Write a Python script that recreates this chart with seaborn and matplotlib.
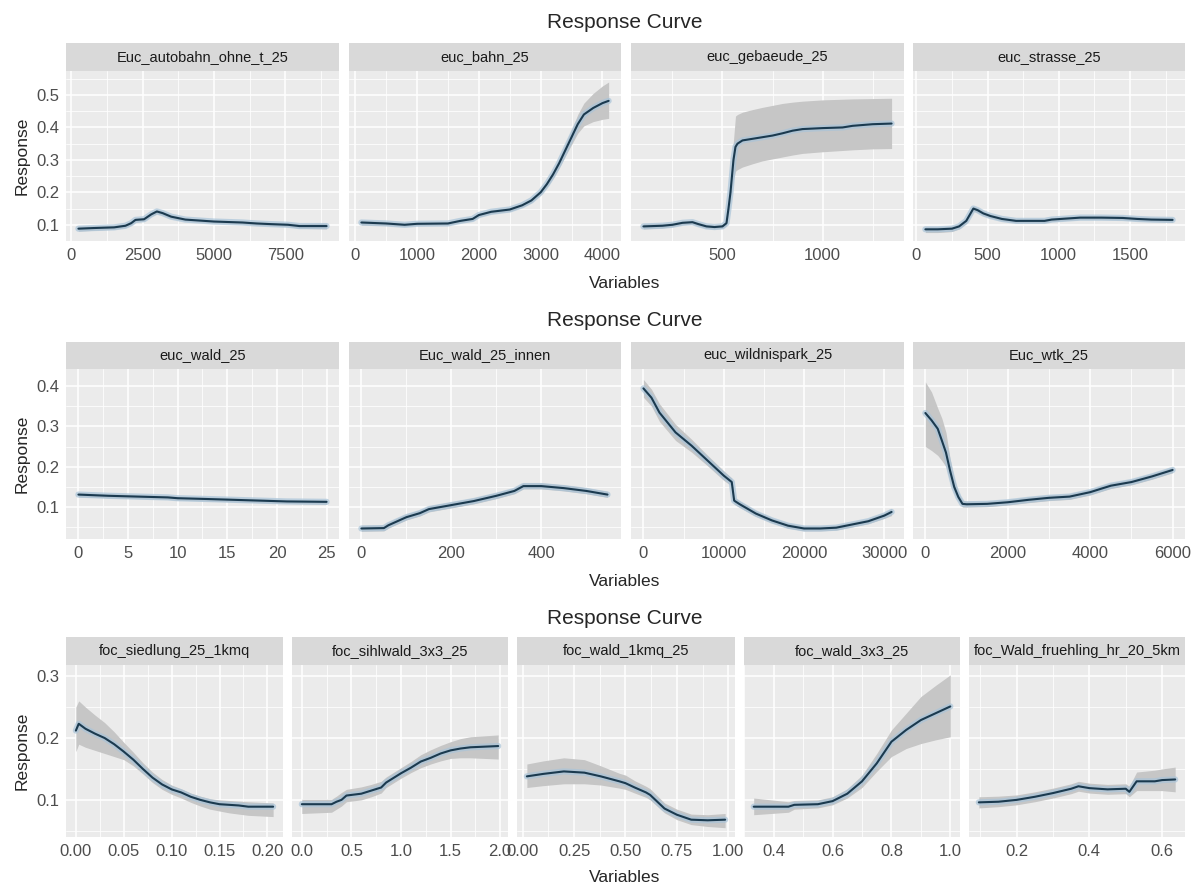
import seaborn as sns
import matplotlib.pyplot as plt

# ---- values (x, mean response, lower / upper band) ----

# row 1
autobahn_x = [250, 800, 1500, 1900, 2100, 2250, 2550, 2800, 3000, 3200, 3500, 4000, 4500, 5000, 6000, 6500, 7000, 7600, 8000, 8950]
autobahn_y = [0.088, 0.090, 0.092, 0.097, 0.105, 0.115, 0.117, 0.132, 0.141, 0.136, 0.125, 0.116, 0.113, 0.110, 0.107, 0.104, 0.102, 0.100, 0.096, 0.096]
autobahn_lo = [0.080, 0.083, 0.086, 0.091, 0.099, 0.108, 0.111, 0.126, 0.134, 0.130, 0.119, 0.111, 0.108, 0.105, 0.102, 0.099, 0.097, 0.094, 0.089, 0.087]
autobahn_hi = [0.096, 0.097, 0.098, 0.103, 0.111, 0.122, 0.123, 0.138, 0.148, 0.142, 0.131, 0.121, 0.118, 0.115, 0.112, 0.109, 0.107, 0.106, 0.103, 0.105]

bahn_x = [100, 500, 800, 1000, 1500, 1700, 1900, 2000, 2200, 2500, 2700, 2850, 3000, 3100, 3200, 3300, 3400, 3500, 3600, 3700, 3850, 4000, 4100]
bahn_y = [0.107, 0.104, 0.100, 0.103, 0.104, 0.112, 0.118, 0.130, 0.140, 0.147, 0.160, 0.175, 0.200, 0.225, 0.255, 0.290, 0.330, 0.370, 0.410, 0.440, 0.460, 0.475, 0.482]
bahn_lo = [0.099, 0.098, 0.095, 0.098, 0.099, 0.106, 0.112, 0.124, 0.134, 0.141, 0.154, 0.168, 0.192, 0.215, 0.243, 0.275, 0.312, 0.347, 0.382, 0.405, 0.418, 0.425, 0.428]
bahn_hi = [0.115, 0.110, 0.106, 0.108, 0.109, 0.118, 0.124, 0.136, 0.146, 0.153, 0.166, 0.182, 0.208, 0.235, 0.267, 0.305, 0.348, 0.393, 0.440, 0.475, 0.505, 0.528, 0.540]

gebaeude_x = [105, 200, 250, 300, 350, 380, 420, 460, 500, 520, 530, 540, 555, 565, 575, 600, 650, 700, 750, 800, 850, 900, 1000, 1100, 1150, 1250, 1345]
gebaeude_y = [0.095, 0.097, 0.100, 0.106, 0.108, 0.102, 0.095, 0.093, 0.095, 0.105, 0.150, 0.200, 0.300, 0.340, 0.350, 0.360, 0.365, 0.370, 0.375, 0.382, 0.390, 0.395, 0.398, 0.400, 0.405, 0.410, 0.412]
gebaeude_lo = [0.087, 0.090, 0.094, 0.100, 0.102, 0.096, 0.089, 0.087, 0.089, 0.097, 0.130, 0.170, 0.240, 0.265, 0.270, 0.278, 0.288, 0.297, 0.303, 0.309, 0.315, 0.320, 0.325, 0.329, 0.331, 0.334, 0.335]
gebaeude_hi = [0.103, 0.104, 0.106, 0.112, 0.114, 0.108, 0.101, 0.099, 0.101, 0.113, 0.170, 0.230, 0.360, 0.435, 0.440, 0.447, 0.455, 0.462, 0.468, 0.474, 0.478, 0.481, 0.485, 0.487, 0.488, 0.489, 0.490]

strasse_x = [63, 150, 250, 300, 350, 400, 430, 470, 520, 600, 700, 800, 900, 950, 1050, 1150, 1300, 1450, 1550, 1650, 1800]
strasse_y = [0.086, 0.086, 0.088, 0.095, 0.112, 0.150, 0.145, 0.135, 0.127, 0.118, 0.112, 0.112, 0.112, 0.116, 0.119, 0.122, 0.122, 0.121, 0.118, 0.116, 0.115]
strasse_lo = [0.076, 0.076, 0.079, 0.087, 0.104, 0.142, 0.138, 0.128, 0.121, 0.112, 0.106, 0.106, 0.106, 0.110, 0.113, 0.116, 0.116, 0.115, 0.112, 0.110, 0.108]
strasse_hi = [0.094, 0.094, 0.096, 0.103, 0.120, 0.158, 0.152, 0.142, 0.133, 0.124, 0.118, 0.118, 0.118, 0.122, 0.125, 0.128, 0.129, 0.128, 0.125, 0.123, 0.122]

# row 2
wald_x = [0, 2, 3, 6, 9, 10, 13, 17, 21, 25]
wald_y = [0.131, 0.129, 0.128, 0.126, 0.124, 0.122, 0.120, 0.117, 0.114, 0.113]
wald_lo = [0.125, 0.124, 0.123, 0.121, 0.119, 0.117, 0.115, 0.112, 0.109, 0.107]
wald_hi = [0.137, 0.134, 0.133, 0.131, 0.129, 0.127, 0.125, 0.122, 0.119, 0.118]

innen_x = [0, 50, 60, 80, 100, 130, 150, 200, 250, 300, 340, 360, 400, 450, 500, 547]
innen_y = [0.047, 0.048, 0.055, 0.065, 0.075, 0.085, 0.095, 0.105, 0.115, 0.128, 0.140, 0.152, 0.152, 0.147, 0.140, 0.131]
innen_lo = [0.040, 0.041, 0.048, 0.058, 0.068, 0.078, 0.088, 0.098, 0.108, 0.121, 0.133, 0.145, 0.145, 0.140, 0.133, 0.124]
innen_hi = [0.055, 0.056, 0.063, 0.073, 0.083, 0.093, 0.103, 0.113, 0.123, 0.136, 0.148, 0.160, 0.160, 0.155, 0.148, 0.139]

wildnis_x = [0, 1000, 2000, 4000, 6000, 8000, 10000, 11000, 11300, 12000, 14000, 16000, 18000, 20000, 22000, 24000, 26000, 28000, 30000, 30900]
wildnis_y = [0.394, 0.371, 0.334, 0.285, 0.252, 0.215, 0.178, 0.162, 0.116, 0.107, 0.084, 0.067, 0.054, 0.047, 0.047, 0.049, 0.057, 0.065, 0.079, 0.088]
wildnis_lo = [0.372, 0.350, 0.312, 0.265, 0.236, 0.202, 0.166, 0.152, 0.107, 0.099, 0.077, 0.061, 0.048, 0.041, 0.041, 0.043, 0.051, 0.059, 0.072, 0.079]
wildnis_hi = [0.416, 0.392, 0.356, 0.305, 0.268, 0.228, 0.190, 0.172, 0.125, 0.115, 0.091, 0.073, 0.060, 0.053, 0.053, 0.055, 0.063, 0.071, 0.086, 0.097]

wtk_x = [0, 150, 300, 400, 500, 600, 700, 800, 900, 1000, 1500, 2000, 2500, 3000, 3500, 4000, 4500, 5000, 5500, 6000]
wtk_y = [0.333, 0.315, 0.294, 0.265, 0.235, 0.190, 0.150, 0.125, 0.108, 0.107, 0.108, 0.112, 0.118, 0.123, 0.126, 0.137, 0.153, 0.162, 0.176, 0.192]
wtk_lo = [0.250, 0.240, 0.228, 0.215, 0.200, 0.165, 0.135, 0.115, 0.100, 0.100, 0.101, 0.105, 0.111, 0.116, 0.119, 0.130, 0.146, 0.155, 0.169, 0.185]
wtk_hi = [0.410, 0.385, 0.345, 0.320, 0.285, 0.220, 0.170, 0.138, 0.117, 0.115, 0.115, 0.119, 0.125, 0.130, 0.133, 0.144, 0.160, 0.169, 0.183, 0.199]

# row 3
siedlung_x = [0.000, 0.003, 0.010, 0.020, 0.030, 0.040, 0.050, 0.060, 0.070, 0.080, 0.090, 0.100, 0.110, 0.120, 0.130, 0.140, 0.150, 0.160, 0.170, 0.180, 0.206]
siedlung_y = [0.212, 0.223, 0.215, 0.207, 0.200, 0.190, 0.178, 0.165, 0.150, 0.136, 0.125, 0.117, 0.112, 0.105, 0.100, 0.096, 0.093, 0.092, 0.091, 0.089, 0.089]
siedlung_lo = [0.178, 0.190, 0.185, 0.180, 0.175, 0.170, 0.165, 0.155, 0.142, 0.128, 0.117, 0.109, 0.103, 0.096, 0.090, 0.085, 0.082, 0.079, 0.077, 0.075, 0.073]
siedlung_hi = [0.250, 0.260, 0.250, 0.237, 0.225, 0.210, 0.193, 0.177, 0.160, 0.145, 0.133, 0.124, 0.118, 0.111, 0.106, 0.102, 0.100, 0.099, 0.098, 0.097, 0.095]

sihlwald_x = [0.0, 0.3, 0.35, 0.4, 0.45, 0.6, 0.7, 0.8, 0.85, 1.0, 1.1, 1.2, 1.3, 1.4, 1.5, 1.6, 1.7, 1.98]
sihlwald_y = [0.093, 0.093, 0.097, 0.100, 0.107, 0.110, 0.115, 0.120, 0.128, 0.143, 0.152, 0.162, 0.168, 0.175, 0.180, 0.183, 0.185, 0.187]
sihlwald_lo = [0.078, 0.080, 0.085, 0.090, 0.097, 0.100, 0.105, 0.111, 0.120, 0.135, 0.144, 0.152, 0.158, 0.163, 0.167, 0.168, 0.168, 0.166]
sihlwald_hi = [0.101, 0.101, 0.106, 0.112, 0.117, 0.121, 0.125, 0.130, 0.137, 0.152, 0.162, 0.173, 0.181, 0.188, 0.194, 0.199, 0.202, 0.205]

wald1k_x = [0.02, 0.1, 0.2, 0.3, 0.38, 0.47, 0.5, 0.545, 0.6, 0.62, 0.69, 0.75, 0.82, 0.9, 0.985]
wald1k_y = [0.138, 0.142, 0.146, 0.144, 0.138, 0.130, 0.127, 0.120, 0.112, 0.108, 0.086, 0.076, 0.068, 0.067, 0.068]
wald1k_lo = [0.120, 0.123, 0.126, 0.126, 0.124, 0.119, 0.117, 0.111, 0.104, 0.100, 0.079, 0.068, 0.060, 0.057, 0.055]
wald1k_hi = [0.158, 0.163, 0.168, 0.165, 0.155, 0.143, 0.140, 0.131, 0.122, 0.118, 0.095, 0.085, 0.077, 0.076, 0.078]

wald3_x = [0.332, 0.45, 0.47, 0.55, 0.6, 0.65, 0.7, 0.75, 0.8, 0.85, 0.9, 0.95, 1.0]
wald3_y = [0.089, 0.089, 0.092, 0.093, 0.098, 0.110, 0.130, 0.159, 0.194, 0.213, 0.229, 0.240, 0.251]
wald3_lo = [0.076, 0.080, 0.085, 0.087, 0.092, 0.103, 0.120, 0.146, 0.170, 0.183, 0.191, 0.197, 0.202]
wald3_hi = [0.103, 0.097, 0.099, 0.100, 0.105, 0.118, 0.140, 0.175, 0.213, 0.240, 0.267, 0.285, 0.302]

frueh_x = [0.096, 0.15, 0.2, 0.25, 0.3, 0.35, 0.37, 0.4, 0.45, 0.5, 0.51, 0.53, 0.58, 0.6, 0.636]
frueh_y = [0.096, 0.097, 0.100, 0.105, 0.111, 0.118, 0.122, 0.119, 0.117, 0.118, 0.113, 0.130, 0.130, 0.132, 0.133]
frueh_lo = [0.087, 0.089, 0.092, 0.097, 0.103, 0.110, 0.114, 0.111, 0.109, 0.110, 0.105, 0.115, 0.115, 0.115, 0.113]
frueh_hi = [0.105, 0.106, 0.108, 0.113, 0.119, 0.126, 0.130, 0.127, 0.125, 0.126, 0.122, 0.145, 0.148, 0.150, 0.153]

# panel names, ticks and labels
row1_names = ['Euc_autobahn_ohne_t_25', 'euc_bahn_25', 'euc_gebaeude_25', 'euc_strasse_25']
row2_names = ['euc_wald_25', 'Euc_wald_25_innen', 'euc_wildnispark_25', 'Euc_wtk_25']
row3_names = ['foc_siedlung_25_1kmq', 'foc_sihlwald_3x3_25', 'foc_wald_1kmq_25', 'foc_wald_3x3_25', 'foc_Wald_fruehling_hr_20_5km']

row1_yticks = [0.1, 0.2, 0.3, 0.4, 0.5]
row2_yticks = [0.1, 0.2, 0.3, 0.4]
row3_yticks = [0.1, 0.2, 0.3]

row1_xticks = [[0, 2500, 5000, 7500], [0, 1000, 2000, 3000, 4000], [500, 1000], [0, 500, 1000, 1500]]
row2_xticks = [[0, 5, 10, 15, 20, 25], [0, 200, 400], [0, 10000, 20000, 30000], [0, 2000, 4000, 6000]]
row3_xticks = [[0, 0.05, 0.10, 0.15, 0.20], [0, 0.5, 1.0, 1.5, 2.0], [0, 0.25, 0.5, 0.75, 1.0], [0.4, 0.6, 0.8, 1.0], [0.2, 0.4, 0.6]]
row3_xlabels = [['0.00', '0.05', '0.10', '0.15', '0.20'], ['0.0', '0.5', '1.0', '1.5', '2.0'],
                ['0.00', '0.25', '0.50', '0.75', '1.00'], ['0.4', '0.6', '0.8', '1.0'], ['0.2', '0.4', '0.6']]

W, H = 1201, 889
sns.set_theme(style='darkgrid')
plt.rcParams['font.family'] = ['Liberation Sans', 'DejaVu Sans']

fig = plt.figure(figsize=(W / 100, H / 100), dpi=100)


def px_axes(x0, y0, x1, y1):
    return fig.add_axes([x0 / W, 1 - y1 / H, (x1 - x0) / W, (y1 - y0) / H])


def minor_of(ticks, lim):
    step = ticks[1] - ticks[0]
    cand = [ticks[0] - step / 2] + [t + step / 2 for t in ticks]
    return [c for c in cand if lim[0] <= c <= lim[1]]


rows = [
    dict(title=23, strip=(43, 71), bottom=241, xlab=283,
         cols=[(66, 339), (349, 621), (631, 904), (913, 1185)],
         names=row1_names, yticks=row1_yticks, ylim=(0.05, 0.574),
         xticks=row1_xticks, xlabels=[[str(t) for t in tk] for tk in row1_xticks],
         xlims=[(-185, 9385), (-100, 4300), (43, 1407), (-24, 1887)],
         data=[(autobahn_x, autobahn_y, autobahn_lo, autobahn_hi),
               (bahn_x, bahn_y, bahn_lo, bahn_hi),
               (gebaeude_x, gebaeude_y, gebaeude_lo, gebaeude_hi),
               (strasse_x, strasse_y, strasse_lo, strasse_hi)]),
    dict(title=320, strip=(342, 369), bottom=539, xlab=581,
         cols=[(66, 339), (349, 621), (631, 904), (913, 1185)],
         names=row2_names, yticks=row2_yticks, ylim=(0.021, 0.442),
         xticks=row2_xticks, xlabels=[[str(t) for t in tk] for tk in row2_xticks],
         xlims=[(-1.25, 26.25), (-27.5, 577), (-1545, 32445), (-300, 6300)],
         data=[(wald_x, wald_y, wald_lo, wald_hi),
               (innen_x, innen_y, innen_lo, innen_hi),
               (wildnis_x, wildnis_y, wildnis_lo, wildnis_hi),
               (wtk_x, wtk_y, wtk_lo, wtk_hi)]),
    dict(title=618, strip=(637, 665), bottom=837, xlab=877,
         cols=[(66, 283), (292, 508), (517, 735), (744, 960), (969, 1185)],
         names=row3_names, yticks=row3_yticks, ylim=(0.040, 0.318),
         xticks=row3_xticks, xlabels=row3_xlabels,
         xlims=[(-0.0103, 0.2163), (-0.099, 2.079), (-0.028, 1.033), (0.299, 1.033), (0.069, 0.663)],
         data=[(siedlung_x, siedlung_y, siedlung_lo, siedlung_hi),
               (sihlwald_x, sihlwald_y, sihlwald_lo, sihlwald_hi),
               (wald1k_x, wald1k_y, wald1k_lo, wald1k_hi),
               (wald3_x, wald3_y, wald3_lo, wald3_hi),
               (frueh_x, frueh_y, frueh_lo, frueh_hi)]),
]

for row in rows:
    s0, s1 = row['strip']
    for i, (x0, x1) in enumerate(row['cols']):
        xs, ys, lo, hi = row['data'][i]
        ax = px_axes(x0, s1, x1, row['bottom'])
        ax.set_facecolor('#EBEBEB')
        ax.set_axisbelow(True)

        ax.fill_between(xs, lo, hi, color='#C6C6C6', lw=0, zorder=1)
        sns.lineplot(x=xs, y=ys, ax=ax, color='#A9C4D9', linewidth=4.5, alpha=0.7, zorder=2)
        sns.lineplot(x=xs, y=ys, ax=ax, color='#1B3A4F', linewidth=1.5, zorder=3)

        ax.set_xlim(row['xlims'][i])
        ax.set_ylim(row['ylim'])
        ax.set_xticks(row['xticks'][i])
        ax.set_xticklabels(row['xlabels'][i])
        ax.set_xticks(minor_of(row['xticks'][i], row['xlims'][i]), minor=True)
        ax.set_yticks(row['yticks'])
        ax.set_yticklabels([f'{t:.1f}' for t in row['yticks']])
        ax.set_yticks(minor_of(row['yticks'], row['ylim']), minor=True)
        ax.grid(which='major', color='white', linewidth=1.1)
        ax.grid(which='minor', color='white', linewidth=0.55)
        ax.tick_params(which='minor', length=0)
        ax.tick_params(which='major', length=3, width=0.8, color='#333333',
                       labelsize=12, labelcolor='#4D4D4D', pad=2)
        if i > 0:
            ax.tick_params(axis='y', length=0, labelleft=False)
        for sp in ax.spines.values():
            sp.set_visible(False)
        ax.set_xlabel('')
        ax.set_ylabel('')

        sax = px_axes(x0, s0, x1, s1)
        sax.set_facecolor('#D9D9D9')
        sax.grid(False)
        sax.set_xticks([])
        sax.set_yticks([])
        for sp in sax.spines.values():
            sp.set_visible(False)
        sax.text(0.5, 0.5, row['names'][i], ha='center', va='center',
                 fontsize=10.5, color='#1A1A1A', transform=sax.transAxes)

    fig.text(625 / W, 1 - row['title'] / H, 'Response Curve', ha='center', va='center', fontsize=15)
    fig.text(625 / W, 1 - row['xlab'] / H, 'Variables', ha='center', va='center', fontsize=12.5)
    mid = (s1 + row['bottom']) / 2
    fig.text(22 / W, 1 - mid / H, 'Response', ha='center', va='center', rotation=90, fontsize=12.5)

fig.savefig('out.png', dpi=100, facecolor='white')
